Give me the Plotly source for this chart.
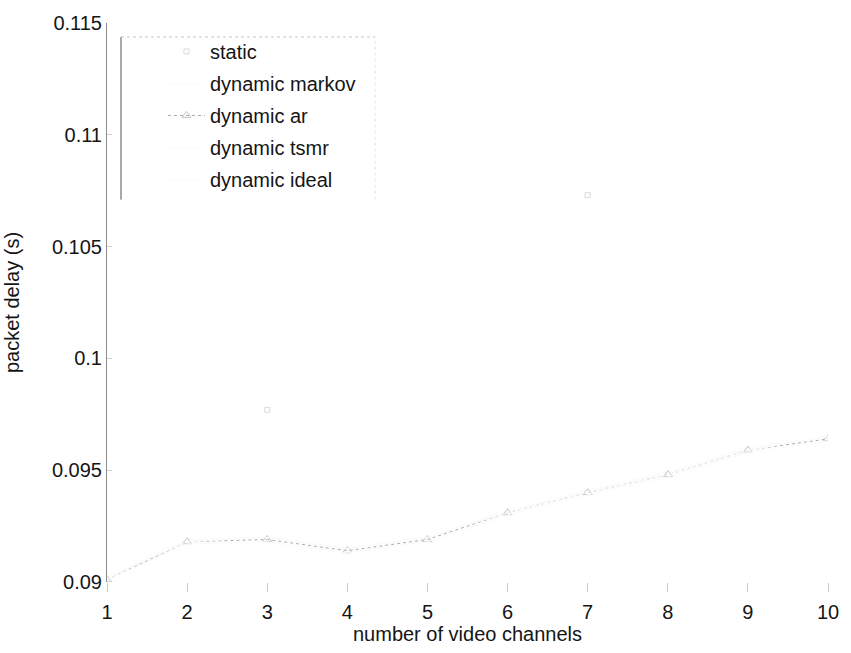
import plotly.graph_objects as go

channels = [1, 2, 3, 4, 5, 6, 7, 8, 9, 10]
x_ticks = [1, 2, 3, 4, 5, 6, 7, 8, 9, 10]
y_ticks = [0.09, 0.095, 0.1, 0.105, 0.11, 0.115]
y_tick_text = ["0.09", "0.095", "0.1", "0.105", "0.11", "0.115"]

# faded reference: only the "dynamic ar" curve is clearly readable
delay_ar = [0.0901, 0.0918, 0.0919, 0.0914, 0.0919, 0.0931, 0.0940, 0.0948, 0.0959, 0.0964]
static_x = [3, 7]
static_y = [0.0977, 0.1073]
delay_markov = [0.0902, 0.0919, 0.0920, 0.0915, 0.0920, 0.0932, 0.0941, 0.0949, 0.0960, 0.0965]
delay_tsmr = [0.0902, 0.0918, 0.0920, 0.0915, 0.0920, 0.0931, 0.0940, 0.0948, 0.0959, 0.0965]
delay_ideal = [0.0901, 0.0917, 0.0918, 0.0913, 0.0918, 0.0930, 0.0939, 0.0947, 0.0958, 0.0963]

FONT = "Liberation Sans, Arial, sans-serif"
FS = 20
TXT = "#151515"

fig = go.Figure()
fig.add_trace(go.Scatter(x=static_x, y=static_y, name="static", legendgroup="a",
                         mode="lines+markers",
                         line=dict(color="#fcfcfc", width=1),
                         marker=dict(symbol="square-open", size=5, color="#dadada")))
fig.add_trace(go.Scatter(x=channels, y=delay_markov, name="dynamic markov", legendgroup="b",
                         mode="lines", line=dict(color="#fafafa", width=1)))
fig.add_trace(go.Scatter(x=channels, y=delay_ar, name="dynamic ar", legendgroup="c",
                         mode="lines+markers",
                         line=dict(color="#ababab", width=1, dash="dot"),
                         marker=dict(symbol="triangle-up-open", size=8, color="#c4c4c4", line=dict(width=1))))
fig.add_trace(go.Scatter(x=channels, y=delay_tsmr, name="dynamic tsmr", legendgroup="d",
                         mode="lines", line=dict(color="#fafafa", width=1)))
fig.add_trace(go.Scatter(x=channels, y=delay_ideal, name="dynamic ideal", legendgroup="e",
                         mode="lines", line=dict(color="#fafafa", width=1)))

fig.update_layout(
    width=851, height=653,
    margin=dict(l=107, r=22, t=19, b=71),
    paper_bgcolor="white", plot_bgcolor="white",
    font=dict(family=FONT, size=FS, color=TXT),
    showlegend=True,
    legend=dict(x=0.0776, y=0.984, xanchor="left", yanchor="top",
                bgcolor="rgba(255,255,255,0)", borderwidth=0, itemwidth=37,
                tracegroupgap=3, font=dict(family=FONT, size=FS, color=TXT)),
    xaxis=dict(range=[1, 10], tickvals=x_ticks, showgrid=False, zeroline=False,
               showline=False, ticks="outside", ticklen=9, tickcolor="#c8c8c8",
               ticklabelstandoff=3,
               tickfont=dict(family=FONT, size=FS, color=TXT),
               title=dict(text="number of video channels", standoff=2,
                          font=dict(family=FONT, size=FS, color=TXT))),
    yaxis=dict(range=[0.09, 0.115], tickvals=y_ticks, ticktext=y_tick_text,
               showgrid=False, zeroline=False, showline=True, linecolor="#8a8a8a",
               linewidth=1, ticks="inside", ticklen=5, tickcolor="#cfcfcf",
               tickfont=dict(family=FONT, size=FS, color=TXT),
               title=dict(text="packet delay (s)", standoff=26,
                          font=dict(family=FONT, size=FS, color=TXT))),
)

# legend box edges (faded in the reference)
fig.add_shape(type="line", xref="paper", yref="paper", x0=0.0194, x1=0.0194,
              y0=0.684, y1=0.975, line=dict(color="#555", width=1))
fig.add_shape(type="line", xref="paper", yref="paper", x0=0.0194, x1=0.372,
              y0=0.975, y1=0.975, line=dict(color="#c4c4c4", width=1, dash="dot"))
fig.add_shape(type="line", xref="paper", yref="paper", x0=0.372, x1=0.372,
              y0=0.684, y1=0.975, line=dict(color="#e6e6e6", width=1, dash="dot"))

fig.write_html("out.html")
